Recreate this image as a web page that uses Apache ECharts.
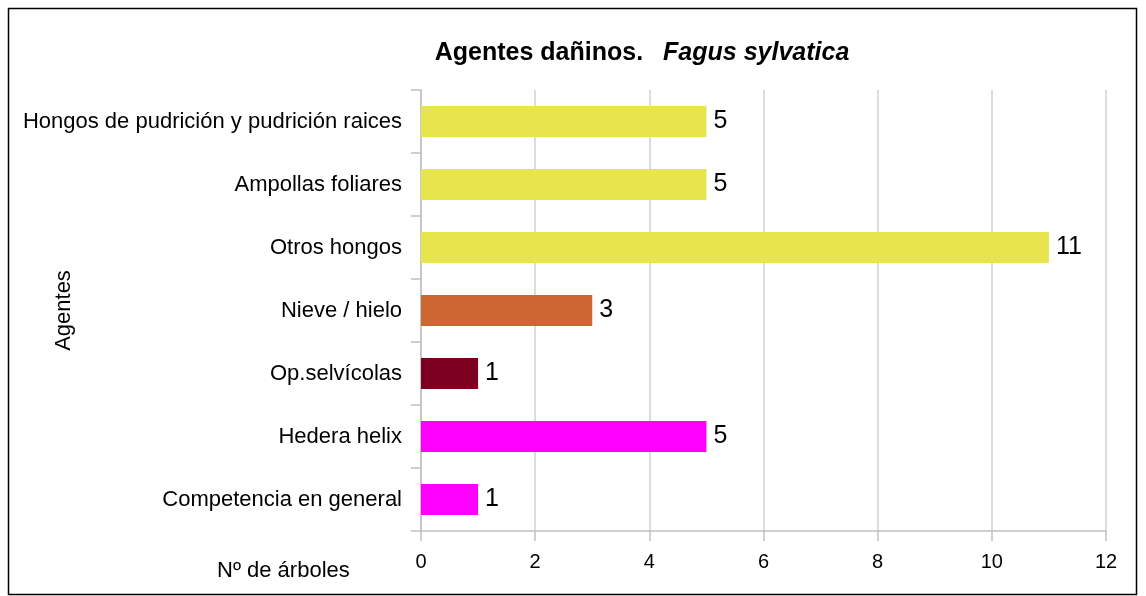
<!DOCTYPE html>
<html>
<head>
<meta charset="utf-8">
<script src="https://cdn.jsdelivr.net/npm/echarts@6/dist/echarts.min.js"></script>
<style>
  html, body { margin: 0; padding: 0; background: #fff; }
  #chart { width: 1146px; height: 596px; }
</style>
</head>
<body>
<div id="chart"></div>
<script>
var categories = ['Hongos de pudrición y pudrición raices', 'Ampollas foliares', 'Otros hongos',
    'Nieve / hielo', 'Op.selvícolas', 'Hedera helix', 'Competencia en general'];
var values = [5, 5, 11, 3, 1, 5, 1];
var barColors = ['#e7e54e', '#e7e54e', '#e7e54e', '#cc6633', '#7e0021', '#ff00ff', '#ff00ff'];
var xTicks = [0, 2, 4, 6, 8, 10, 12];

var dom = document.getElementById('chart');
var myChart = echarts.init(dom);
var font = '"Liberation Sans", Arial, sans-serif';

option = {
    textStyle: { fontFamily: font },
    title: {
        text: '{a|Agentes dañinos.}{b|Fagus sylvatica}',
        left: 637,
        textAlign: 'center',
        top: 36,
        textStyle: {
            rich: {
                a: { fontFamily: font, fontSize: 25, fontWeight: 'bold', color: '#000', padding: [0, 20, 0, 0] },
                b: { fontFamily: font, fontSize: 25, fontWeight: 'bold', fontStyle: 'italic', color: '#000' }
            }
        }
    },
    grid: { left: 421, right: 40, top: 90, bottom: 65, containLabel: false },
    xAxis: {
        type: 'value',
        min: 0,
        max: 12,
        interval: 2,
        axisLine: { show: true, lineStyle: { color: '#c0c0c0', width: 1.5 } },
        axisTick: { show: true, length: 10, lineStyle: { color: '#c0c0c0', width: 1.5 } },
        splitLine: { show: true, lineStyle: { color: '#d0d0d0', width: 1.5 } },
        axisLabel: {
            margin: 21,
            color: '#000',
            fontSize: 20,
            fontFamily: font,
            formatter: function (v) { return xTicks.indexOf(v) >= 0 ? String(v) : ''; }
        }
    },
    yAxis: {
        type: 'category',
        inverse: true,
        data: categories,
        name: 'Agentes',
        nameLocation: 'middle',
        nameGap: 346,
        nameRotate: 90,
        nameMoveOverlap: false,
        nameTextStyle: { color: '#000', fontSize: 22, fontFamily: font },
        axisLine: { show: true, lineStyle: { color: '#c0c0c0', width: 1.5 } },
        axisTick: { show: true, length: 10, lineStyle: { color: '#c0c0c0', width: 1.5 } },
        axisLabel: { color: '#000', fontSize: 22, fontFamily: font, margin: 19 }
    },
    graphic: [
        {
            type: 'rect',
            shape: { x: 8.5, y: 8.5, width: 1128, height: 586 },
            style: { fill: 'none', stroke: '#000', lineWidth: 1.5 },
            silent: true
        },
        {
            type: 'text',
            left: 217,
            top: 560,
            style: { text: 'Nº de árboles', fill: '#000', font: '22px ' + font }
        }
    ],
    series: [
        {
            type: 'bar',
            barWidth: 31,
            data: values.map(function (v, i) {
                return { value: v, itemStyle: { color: barColors[i] } };
            }),
            label: {
                show: true,
                position: 'right',
                distance: 7,
                color: '#000',
                fontSize: 25,
                fontFamily: font
            }
        }
    ]
};
if (option && typeof option === 'object') {
    myChart.setOption(option, true);
}
</script>
</body>
</html>
